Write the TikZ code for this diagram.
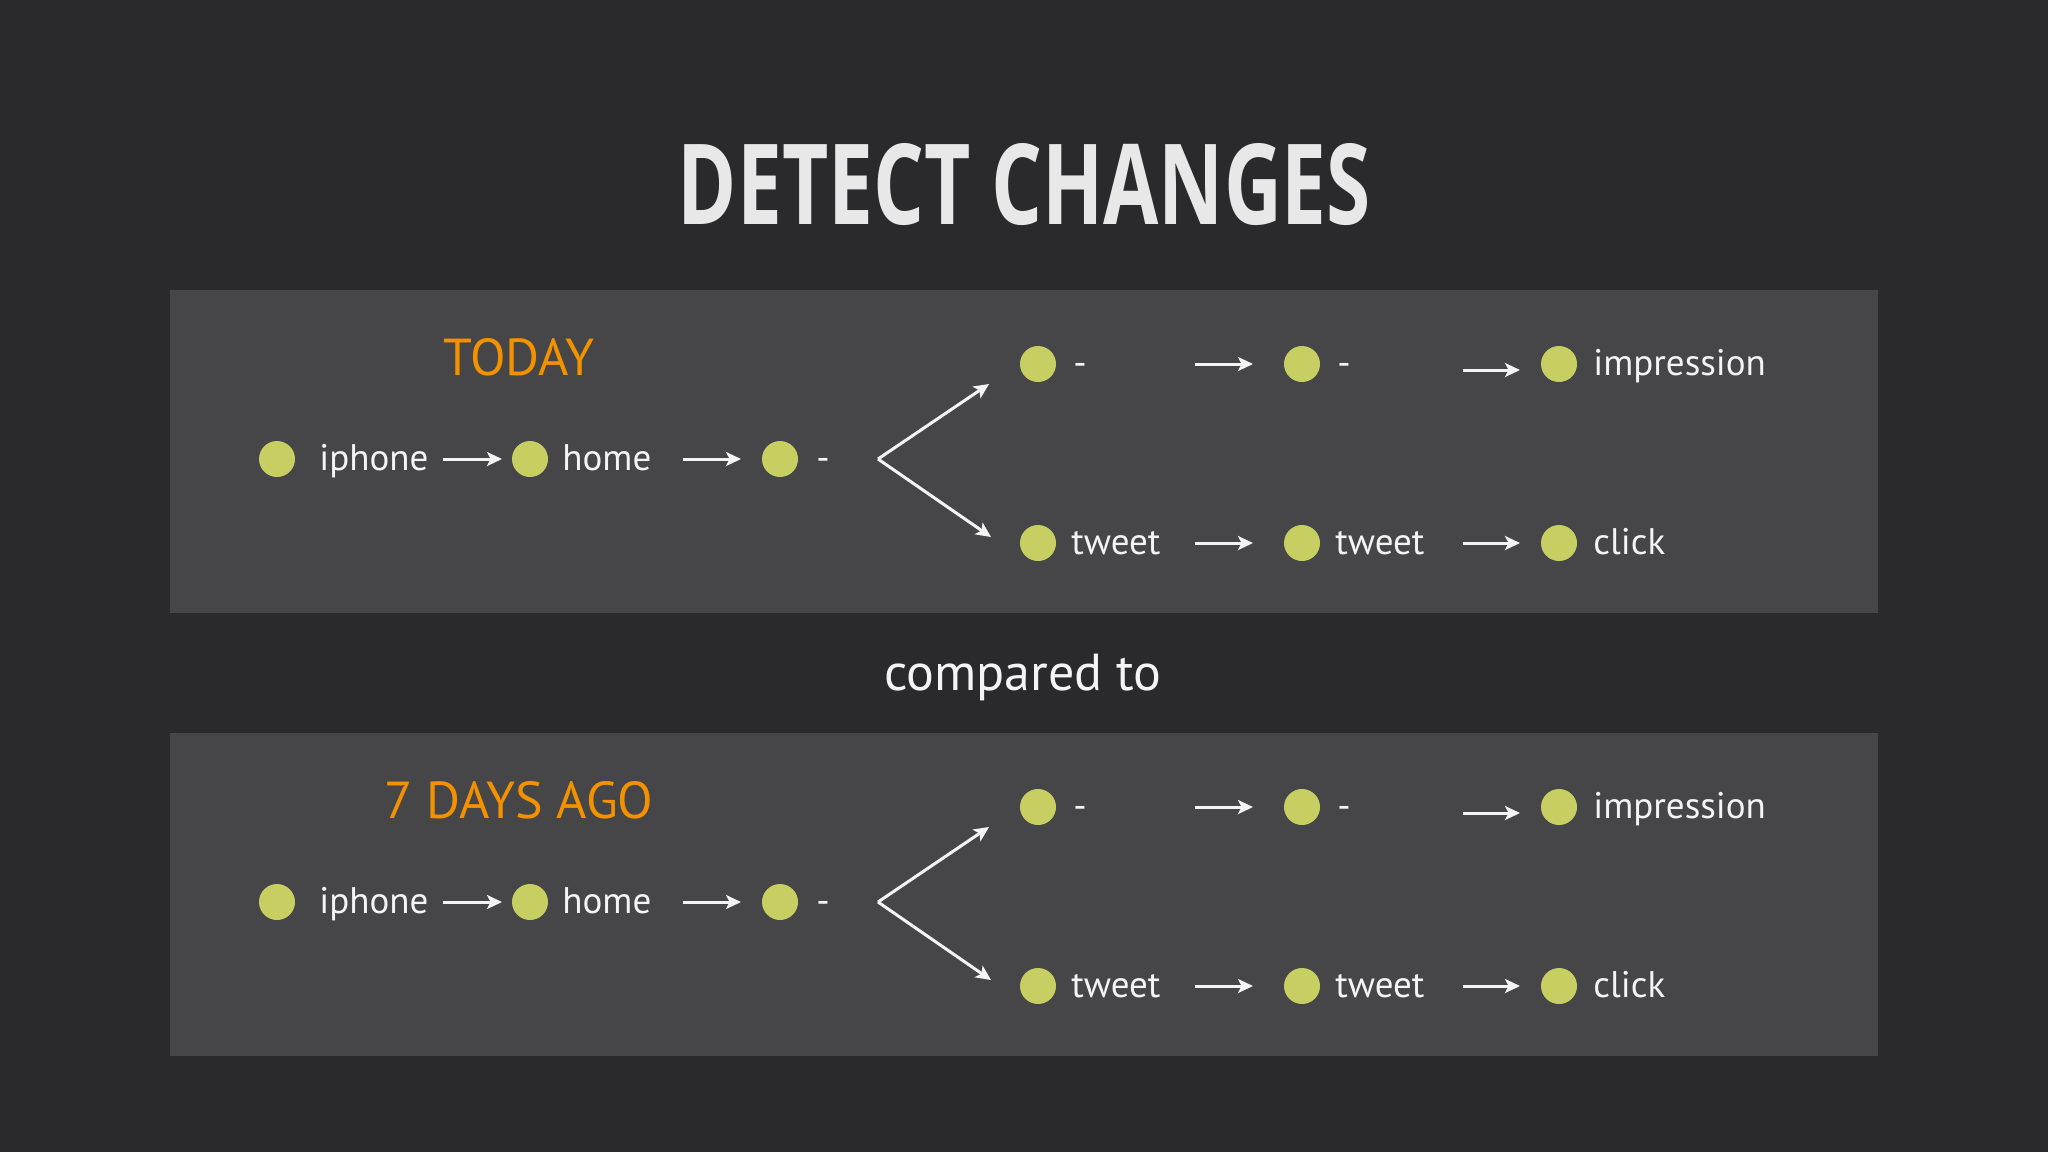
\documentclass[tikz,border=0pt]{standalone}
\usepackage{graphicx}
\usepackage{fontspec}
\setmainfont{PT Sans}
\newfontfamily\headfont{Open Sans}
\usetikzlibrary{arrows.meta}

\definecolor{bgdark}{HTML}{2A292B}
\definecolor{panelgrey}{HTML}{464547}
\definecolor{dotgreen}{HTML}{C8CF62}
\definecolor{whenorange}{HTML}{F39200}
\definecolor{inkwhite}{HTML}{F4F4F4}

\tikzset{
  event/.style={circle,fill=dotgreen,minimum size=18pt,inner sep=0pt},
  word/.style={text=inkwhite,anchor=base west,inner sep=0pt,yshift=-5.5pt,
    font=\fontsize{18.5}{22}\selectfont},
  when/.style={text=whenorange,anchor=base,inner sep=0pt,
    font=\fontsize{26}{30}\selectfont},
  flow/.style={inkwhite,line width=1.5pt,
    -{Stealth[length=7.5pt,width=7pt,inset=1.8pt]}},
}

\begin{document}
\begin{tikzpicture}[x=0.5pt,y=-0.5pt]
    %% background
    \fill[bgdark] (0,0) rectangle (2048,1152);
    \useasboundingbox (0,0) rectangle (2048,1152);
    %% title
    \node[inner sep=0pt,text=inkwhite!95!black] (title) at (1024.5,184.5)
      {\resizebox{346.5pt}{40.5pt}{\headfont\bfseries DETECT CHANGES}};
    \node[text=inkwhite,anchor=base,inner sep=0pt,font=\fontsize{26}{30}\selectfont]
      (cmp) at (1023,690) {compared to};
    %% the two panels
    \foreach \p/\dy/\txt in {a/0/TODAY, b/443/7 DAYS AGO}{
    \begin{scope}[shift={(0,\dy)}]
      \fill[panelgrey] (170,290) rectangle (1878,613);
      \node[when] (\p-when) at (519,375) {\txt};
      %% main row
      \node[event] (\p-d1) at (277,459) {};
      \node[word] (\p-w1) at (319,459) {iphone};
      \node[event] (\p-d2) at (530,459) {};
      \node[word] (\p-w2) at (562,459) {home};
      \node[event] (\p-d3) at (780,459) {};
      \node[word] (\p-w3) at (816,459) {-};
      %% upper branch
      \node[event] (\p-u1) at (1038,364) {};
      \node[word] (\p-v1) at (1073,364) {-};
      \node[event] (\p-u2) at (1302,364) {};
      \node[word] (\p-v2) at (1337,364) {-};
      \node[event] (\p-u3) at (1559,364) {};
      \node[word] (\p-v3) at (1593,364) {impression};
      %% lower branch
      \node[event] (\p-l1) at (1038,543) {};
      \node[word] (\p-m1) at (1071,543) {tweet};
      \node[event] (\p-l2) at (1302,543) {};
      \node[word] (\p-m2) at (1335,543) {tweet};
      \node[event] (\p-l3) at (1559,543) {};
      \node[word] (\p-m3) at (1593,543) {click};
      %% arrow ends
      \coordinate (\p-s1) at (443,459);  \coordinate (\p-e1) at (502,459);
      \coordinate (\p-s2) at (683,459);  \coordinate (\p-e2) at (741,459);
      \coordinate (\p-s3) at (1195,364); \coordinate (\p-e3) at (1253,364);
      \coordinate (\p-s4) at (1463,370); \coordinate (\p-e4) at (1520,370);
      \coordinate (\p-s5) at (1195,543); \coordinate (\p-e5) at (1253,543);
      \coordinate (\p-s6) at (1463,543); \coordinate (\p-e6) at (1520,543);
      \coordinate (\p-fork) at (878,459);
      \coordinate (\p-up) at (989,384);
      \coordinate (\p-dn) at (991,537);
      \foreach \n in {1,...,6}
        \draw[flow] (\p-s\n) -- (\p-e\n);
      \draw[flow] (\p-fork) -- (\p-up);
      \draw[flow] (\p-fork) -- (\p-dn);
    \end{scope}
    }
\end{tikzpicture}
\end{document}
